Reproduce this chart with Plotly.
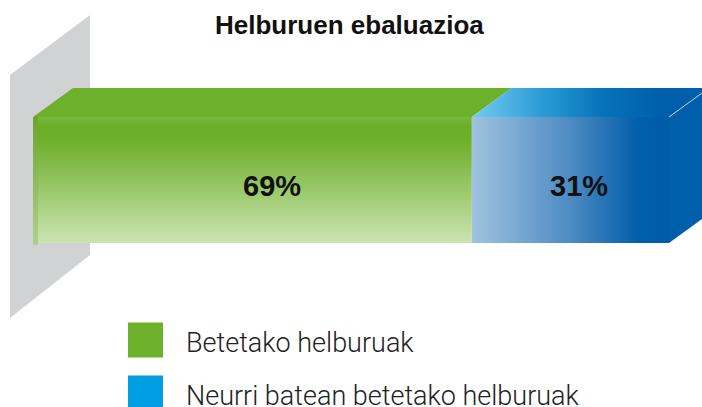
import plotly.graph_objects as go

title = "Helburuen ebaluazioa"
categories = ["Betetako helburuak", "Neurri batean betetako helburuak"]
values = [69, 31]
legend_colors = ["#6DB02A", "#009FE3"]

W, H = 702, 407
X0PX, X100PX = 33, 669            # pixel span of 0..100 %
SCALE = (X100PX - X0PX) / 100.0   # px per %
xr = [-X0PX / SCALE, (W - X0PX) / SCALE]

# bar geometry (y axis is in pixel units, top=0)
BAR_TOP, BAR_BOT = 117, 243
DX = 40 / SCALE   # depth offset in x units
DY = -29          # depth offset in y units

fig = go.Figure()

# grey wall
wall_x = [-23 / SCALE, 57 / SCALE, 57 / SCALE, -23 / SCALE, -23 / SCALE]
wall_y = [75, 15, 255, 318, 75]
fig.add_trace(go.Scatter(x=wall_x, y=wall_y, fill="toself", fillcolor="#D1D2D4",
                         mode="lines", line=dict(width=0), hoverinfo="skip", showlegend=False))

cum = [0]
for v in values:
    cum.append(cum[-1] + v)

# green front face
g0, g1 = cum[0], cum[1]
fig.add_trace(go.Scatter(
    x=[g0, g1, g1, g0, g0], y=[BAR_TOP, BAR_TOP, BAR_BOT, BAR_BOT, BAR_TOP],
    fill="toself", mode="lines", line=dict(width=0), hoverinfo="skip", showlegend=False,
    fillgradient=dict(type="vertical", start=BAR_TOP, stop=BAR_BOT,
                      colorscale=[[0, "#78B73D"], [0.08, "#6BAE28"], [0.2, "#6FB02C"], [1, "#CBE4B1"]])))
# green left edge strip
fig.add_trace(go.Scatter(
    x=[g0, g0 + 5 / SCALE, g0 + 5 / SCALE, g0, g0], y=[BAR_TOP, BAR_TOP, BAR_BOT + 2, BAR_BOT + 2, BAR_TOP],
    fill="toself", mode="lines", line=dict(width=0), hoverinfo="skip", showlegend=False,
    fillgradient=dict(type="vertical", start=BAR_TOP, stop=BAR_BOT,
                      colorscale=[[0, "#6AA52C"], [1, "#AED08C"]])))
# green top face
fig.add_trace(go.Scatter(
    x=[g0, g0 + DX, g1 + DX, g1, g0], y=[BAR_TOP, BAR_TOP + DY, BAR_TOP + DY, BAR_TOP, BAR_TOP],
    fill="toself", fillcolor="#6DB02B", mode="lines", line=dict(width=0),
    hoverinfo="skip", showlegend=False))

# blue front face
b0, b1 = cum[1], cum[2]
fig.add_trace(go.Scatter(
    x=[b0, b1, b1, b0, b0], y=[BAR_TOP, BAR_TOP, BAR_BOT, BAR_BOT, BAR_TOP],
    fill="toself", mode="lines", line=dict(width=0), hoverinfo="skip", showlegend=False,
    fillgradient=dict(type="horizontal", start=b0, stop=b1,
                      colorscale=[[0, "#A0C3E0"], [0.5, "#4D8BC2"], [0.85, "#005EAA"], [1, "#005BA8"]])))
# blue top face
fig.add_trace(go.Scatter(
    x=[b0, b0 + DX, b1 + DX, b1, b0], y=[BAR_TOP, BAR_TOP + DY, BAR_TOP + DY, BAR_TOP, BAR_TOP],
    fill="toself", mode="lines", line=dict(width=0), hoverinfo="skip", showlegend=False,
    fillgradient=dict(type="horizontal", start=b0, stop=b1 + DX,
                      colorscale=[[0, "#74CBF1"], [0.3, "#2A9BD6"], [0.55, "#0673B9"], [0.8, "#005EAA"], [1, "#005EAA"]])))
# blue side face
fig.add_trace(go.Scatter(
    x=[b1, b1 + DX, b1 + DX, b1, b1], y=[BAR_TOP, BAR_TOP + DY, BAR_BOT + DY, BAR_BOT, BAR_TOP],
    fill="toself", fillcolor="#005EAA", mode="lines", line=dict(width=0),
    hoverinfo="skip", showlegend=False))
fig.add_trace(go.Scatter(
    x=[b1, b1 + DX], y=[BAR_TOP, BAR_TOP + DY], mode="lines",
    line=dict(width=1, color="rgba(200,225,245,0.8)"), hoverinfo="skip", showlegend=False))

annotations = []
label_shift = [20, 9]
for i, v in enumerate(values):
    annotations.append(dict(
        x=(cum[i] + cum[i + 1]) / 2, y=(BAR_TOP + BAR_BOT) / 2 + 6, xref="x", yref="y",
        text=f"{v}%", showarrow=False, xshift=label_shift[i],
        font=dict(family="Liberation Sans, Arial, sans-serif", size=29, color="#111111", weight="bold")))

# legend (manual)
shapes = []
leg_y = [340, 393]
for i, (name, col) in enumerate(zip(categories, legend_colors)):
    shapes.append(dict(type="rect", xref="paper", yref="paper",
                       x0=128 / W, x1=163 / W, y0=1 - (leg_y[i] + 17.5) / H, y1=1 - (leg_y[i] - 17.5) / H,
                       fillcolor=col, line=dict(width=0), layer="above"))
    annotations.append(dict(x=184 / W, y=1 - (leg_y[i] + 3) / H, xref="paper", yref="paper",
                            xanchor="left", yanchor="middle", text=name, showarrow=False,
                            font=dict(family="Roboto, Liberation Sans, sans-serif", size=27,
                                      color="#222222", weight=300)))

annotations.append(dict(x=349 / W, y=1 - 25 / H, xref="paper", yref="paper", xanchor="center",
                        yanchor="middle", text=title, showarrow=False,
                        font=dict(family="Liberation Sans, Arial, sans-serif", size=26,
                                  color="#111111", weight="bold")))

fig.update_layout(
    width=W, height=H, margin=dict(l=0, r=0, t=0, b=0),
    paper_bgcolor="white", plot_bgcolor="white",
    xaxis=dict(range=xr, visible=False, fixedrange=True),
    yaxis=dict(range=[H, 0], visible=False, fixedrange=True),
    annotations=annotations, shapes=shapes, showlegend=False,
)

fig.write_html("out.html", config={"displayModeBar": False},
               post_script="document.body.style.margin='0px';document.body.style.overflow='hidden';")
